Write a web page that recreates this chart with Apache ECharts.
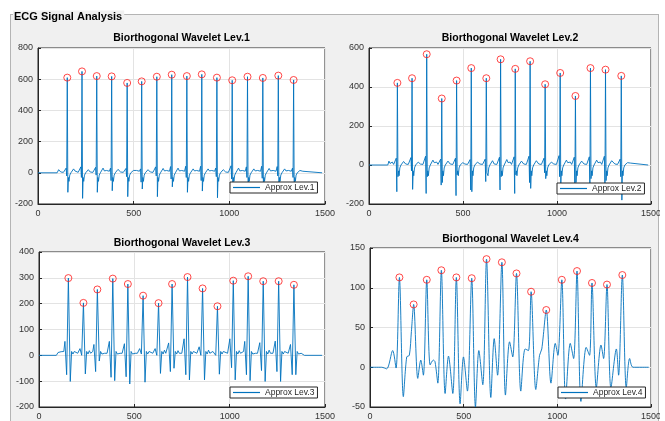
<!DOCTYPE html>
<html>
<head>
<meta charset="utf-8">
<script src="https://cdn.jsdelivr.net/npm/echarts@6/dist/echarts.min.js"></script>
<style>
  html, body { margin: 0; padding: 0; background: #fff; }
  #wrap { position: relative; width: 665px; height: 421px; overflow: hidden; }
  #panel { position: absolute; left: 10px; top: 14px; width: 649px; height: 420px;
           background: #f0f0f0; border: 1px solid #b4b4b4; box-sizing: border-box; }
  #chart { position: absolute; left: 0; top: 0; width: 665px; height: 421px; }
  #edge { position: absolute; left: 660px; top: 0; width: 5px; height: 421px; background: #fff; }
</style>
</head>
<body>
<div id="wrap">
  <div id="panel"></div>
  <div id="chart"></div>
  <div id="edge"></div>
</div>
<script>
// ---- axis ticks ----
const xTicks = [0, 500, 1000, 1500];
const yRange1 = [-200, 800, 200];
const yRange2 = [-200, 600, 200];
const yRange3 = [-200, 400, 100];
const yRange4 = [-50, 150, 50];

// ---- Level 1 approximation: R peaks and per-beat features ----
const lev1PeakX = [153, 230, 307, 385, 466, 542, 621, 699, 778, 856, 935, 1015, 1095, 1175, 1256, 1336];
const lev1PeakY = [610, 650, 620, 618, 576, 586, 616, 629, 620, 631, 610, 593, 616, 608, 623, 595];
const lev1Pre   = [30, 38, 35, 30, 28, 25, 38, 40, 42, 42, 30, 45, 38, 42, 40, 30];
const lev1Q     = [-20, -30, -15, -50, -25, -60, -20, -40, -30, -50, -25, -40, -30, -35, -20, -30];
const lev1S     = [-125, -164, -125, -115, -153, -104, -153, -90, -125, -117, -160, -110, -120, -105, -125, -115];
const lev1T     = [25, 20, 30, 22, 15, 20, 28, 30, 25, 25, 20, 30, 25, 28, 25, 15];
const lev1Lead  = [[0, 0], [100, 0], [108, 20], [113, 8]];
const lev1Tail  = [[1384, 10], [1392, 0], [1485, 0]];

// ---- Level 2 approximation ----
const lev2PeakX = [151, 229, 307, 387, 466, 544, 624, 700, 778, 857, 937, 1017, 1098, 1178, 1258, 1342];
const lev2PeakY = [421, 445, 568, 341, 433, 497, 445, 542, 493, 532, 414, 472, 354, 497, 489, 457];
const lev2Pre   = [35, 38, 45, 30, 35, 28, 30, 40, 42, 45, 35, 48, 40, 42, 45, 30];
const lev2Q     = [-137, -30, -146, -103, -157, -128, -85, -128, -146, -90, -40, -60, -120, -110, -100, -60];
const lev2S     = [-60, -125, -60, -90, -50, -137, -40, -60, -50, -120, -70, -110, -90, -70, -80, -180];
const lev2T     = [18, 15, 25, 20, 12, 15, 22, 28, 20, 22, 15, 25, 20, 25, 22, 12];
const lev2Lead  = [[0, 0], [100, 0], [106, 20], [112, 8]];
const lev2Tail  = [[1390, 10], [1398, 0], [1485, 0]];

// ---- Level 3 approximation ----
const lev3PeakX = [154, 233, 306, 387, 466, 546, 627, 698, 779, 858, 936, 1019, 1097, 1176, 1257, 1337];
const lev3PeakY = [299, 203, 255, 297, 276, 231, 202, 276, 303, 259, 190, 289, 306, 287, 287, 273];
const lev3Pre   = [54, 26, 42, 54, 45, 26, 26, 48, 64, 33, 20, 64, 54, 49, 55, 42];
const lev3Q     = [-75, 0, -63, -85, -83, 5, 0, -63, -75, 0, 0, -48, -75, -59, -63, -75];
const lev3S     = [-101, -72, -22, -98, -111, -104, -70, -50, -95, -95, -73, -95, -98, -101, -101, -75];
const lev3T     = [15, 18, 10, 12, 10, 15, 20, 18, 15, 20, 15, 18, 12, 20, 15, 10];
const lev3Lead  = [[0, 0], [91, 0], [100, 11], [108, 5], [116, 14]];
const lev3Tail  = [[1383, 5], [1392, 0], [1485, 0]];

// ---- Level 4 approximation: R peaks plus the waveform between them ----
const lev4PeakX = [157, 233, 303, 381, 461, 543, 622, 704, 782, 860, 941, 1024, 1105, 1185, 1265, 1347];
const lev4PeakY = [113, 79, 110, 122, 113, 112, 136, 132, 118, 95, 72, 110, 121, 106, 104, 116];
const lev4Wave = [
  [0, 0], [62, 0], [89, -2], [121, 21], [139, -1],
  [178, -37], [196, 13], [210, 15], [221, 45],
  [255, -14], [271, 9], [285, -10],
  [321, 3], [338, 9], [347, 7], [362, -20],
  [401, -33], [419, 14], [442, -33],
  [481, -46], [499, 13], [520, -30],
  [563, -50], [581, 21], [602, -22],
  [645, -38], [663, 36], [681, -10],
  [723, -35], [745, 32], [762, 13],
  [805, -30], [828, 23], [846, 21],
  [885, -28], [905, 15], [917, 23],
  [966, -20], [989, 30], [1003, 15],
  [1044, -40], [1069, 30], [1087, 11],
  [1126, -43], [1154, 25], [1172, 15],
  [1208, -26], [1233, 28], [1247, 11],
  [1286, -26], [1315, 23], [1327, -10],
  [1368, -26], [1386, 11], [1404, 0], [1488, 0]
];

// Beat outline: offset from the R sample, and either a fixed level or a per-beat feature.
const beatShape12 = [[-34, 5], [-27, 15], [-20, 3], [-12, 10], [-6, 'pre'], [-3, 'q'], [0, 'r'],
                     [3, 's'], [6, -30], [9, -55], [13, -15], [19, 0], [26, 8], [33, 't'], [40, 12]];
const beatShape3  = [[-30, 8], [-24, 15], [-18, 'pre'], [-9, 'q'], [0, 'r'], [10, 's'],
                     [17, 15], [24, 5], [31, 't'], [38, 8]];

function buildTrace(lead, peakX, peakY, pre, q, s, t, tail, shape) {
  const pts = lead.slice();
  for (let i = 0; i < peakX.length; i++) {
    const feat = { pre: pre[i], q: q[i], r: peakY[i], s: s[i], t: t[i] };
    shape.forEach(([dx, v]) => {
      pts.push([peakX[i] + dx, typeof v === 'string' ? feat[v] : v]);
    });
  }
  return pts.concat(tail);
}

function mergePeaks(wave, peakX, peakY) {
  const pts = wave.concat(peakX.map((x, i) => [x, peakY[i]]));
  return pts.sort((a, b) => a[0] - b[0]);
}

const traces = [
  buildTrace(lev1Lead, lev1PeakX, lev1PeakY, lev1Pre, lev1Q, lev1S, lev1T, lev1Tail, beatShape12),
  buildTrace(lev2Lead, lev2PeakX, lev2PeakY, lev2Pre, lev2Q, lev2S, lev2T, lev2Tail, beatShape12),
  buildTrace(lev3Lead, lev3PeakX, lev3PeakY, lev3Pre, lev3Q, lev3S, lev3T, lev3Tail, beatShape3),
  mergePeaks(lev4Wave, lev4PeakX, lev4PeakY)
];
const peaks = [
  lev1PeakX.map((x, i) => [x, lev1PeakY[i]]),
  lev2PeakX.map((x, i) => [x, lev2PeakY[i]]),
  lev3PeakX.map((x, i) => [x, lev3PeakY[i]]),
  lev4PeakX.map((x, i) => [x, lev4PeakY[i]])
];
const names = ['Approx Lev.1', 'Approx Lev.2', 'Approx Lev.3', 'Approx Lev.4'];
const titles = ['Biorthogonal Wavelet Lev.1', 'Biorthogonal Wavelet Lev.2',
                'Biorthogonal Wavelet Lev.3', 'Biorthogonal Wavelet Lev.4'];
const yRanges = [yRange1, yRange2, yRange3, yRange4];

// subplot layout
const grids = [
  { left: 38,  top: 48,  width: 287, height: 156 },
  { left: 369, top: 48,  width: 282, height: 156 },
  { left: 39,  top: 252, width: 286, height: 157 },
  { left: 370, top: 248, width: 281, height: 161 }
];
const legendPos = [[230, 182], [557, 183], [230, 387], [558, 387]];

const FONT = '"Liberation Sans", Arial, Helvetica, sans-serif';
const LINE = '#0072BD';
const AX = '#262626';
const plain = v => String(v);

const option = {
  animation: false,
  grid: grids.map(g => Object.assign({
    show: true, backgroundColor: '#fff', borderColor: AX, borderWidth: 1
  }, g)),
  xAxis: grids.map((g, i) => ({
    type: 'value', gridIndex: i, min: xTicks[0], max: xTicks[xTicks.length - 1],
    interval: xTicks[1] - xTicks[0],
    axisLine: { show: true, onZero: false, lineStyle: { color: AX, width: 1 } },
    axisTick: { show: true, inside: true, length: 3, lineStyle: { color: AX } },
    axisLabel: { fontSize: 9, color: '#333', margin: 5, fontFamily: FONT, formatter: plain },
    splitLine: { show: true, lineStyle: { color: '#e3e3e3', width: 1 } }
  })),
  yAxis: yRanges.map((r, i) => ({
    type: 'value', gridIndex: i, min: r[0], max: r[1], interval: r[2],
    axisLine: { show: true, onZero: false, lineStyle: { color: AX, width: 1 } },
    axisTick: { show: true, inside: true, length: 3, lineStyle: { color: AX } },
    axisLabel: { fontSize: 9, color: '#333', margin: 5, fontFamily: FONT, formatter: plain },
    splitLine: { show: true, lineStyle: { color: '#e3e3e3', width: 1 } }
  })),
  legend: names.map((n, i) => ({
    left: legendPos[i][0], top: legendPos[i][1], orient: 'horizontal',
    data: [{ name: n, icon: 'rect', itemStyle: { color: LINE } }],
    itemWidth: 27, itemHeight: 1.2, padding: [1, 3, 1, 3],
    backgroundColor: '#fff', borderColor: AX, borderWidth: 1, borderRadius: 0,
    selectedMode: false,
    textStyle: { fontSize: 8.5, color: '#262626', fontFamily: FONT }
  })),
  series: [].concat(
    traces.map((d, i) => ({
      name: names[i], type: 'line', xAxisIndex: i, yAxisIndex: i, data: d,
      symbol: 'none', showSymbol: false, smooth: i === 3 ? 0.3 : false,
      lineStyle: { color: LINE, width: 0.9 }, itemStyle: { color: LINE }, z: 2
    })),
    peaks.map((d, i) => ({
      name: 'R peaks ' + (i + 1), type: 'scatter', xAxisIndex: i, yAxisIndex: i, data: d,
      symbol: 'circle', symbolSize: 7,
      itemStyle: { color: 'rgba(255,255,255,0)', borderColor: '#ff1a1a', borderWidth: 1 }, z: 3
    }))
  ),
  graphic: [].concat(
    [{
      type: 'text', x: 13, y: 17, z: 100,
      style: {
        text: 'ECG Signal Analysis', fill: '#000', font: 'bold 11px ' + FONT,
        textAlign: 'left', align: 'left', textVerticalAlign: 'middle', verticalAlign: 'middle',
        backgroundColor: '#f0f0f0', padding: [1, 2, 1, 1]
      }
    }],
    grids.map((g, i) => ({
      type: 'text', x: g.left + g.width / 2, y: [38.5, 38.5, 243.3, 239.3][i], z: 100,
      style: {
        text: titles[i], fill: '#000', font: 'bold 10.5px ' + FONT,
        textAlign: 'center', align: 'center', textVerticalAlign: 'middle', verticalAlign: 'middle'
      }
    }))
  )
};

const chart = echarts.init(document.getElementById('chart'), null, { renderer: 'canvas' });
chart.setOption(option);
</script>
</body>
</html>
